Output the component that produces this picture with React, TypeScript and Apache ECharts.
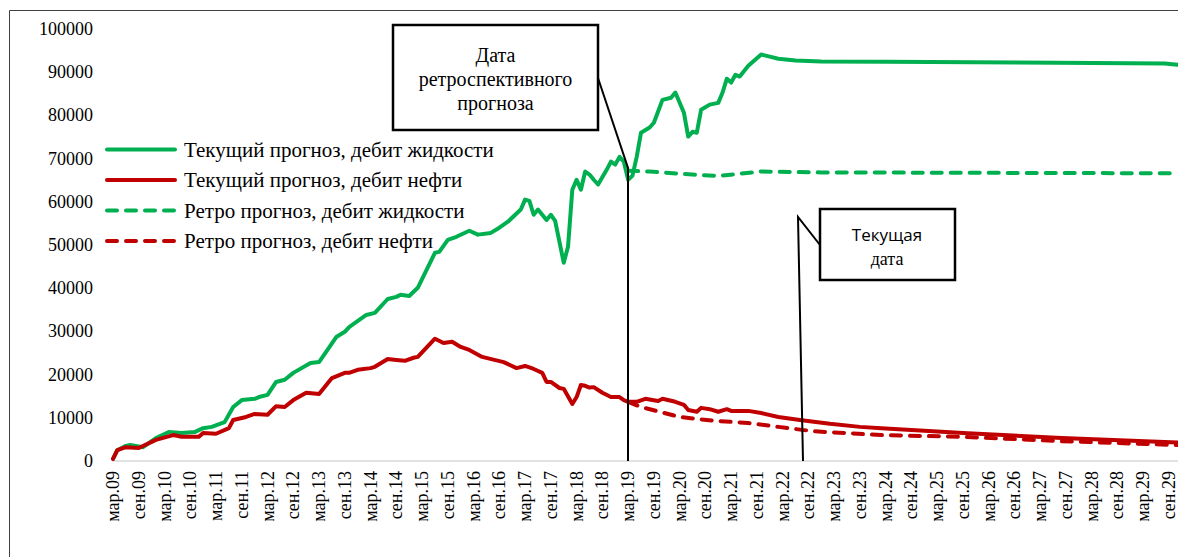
import React, { useEffect, useRef } from "react";
import * as echarts from "echarts";

// Month abbreviations (Russian)
const monthNames = ["янв", "фев", "мар", "апр", "май", "июн", "июл", "авг", "сен", "окт", "ноя", "дек"];
// Monthly categories from мар.09 to ноя.29
const categories: string[] = [];
for (let i = 0; i < 249; i++) {
  const mi = (2 + i) % 12;
  const yr = 2009 + Math.floor((2 + i) / 12);
  categories.push(`${monthNames[mi]}.${String(yr % 100).padStart(2, "0")}`);
}

// [month index from мар.09, value]
const liquidCurrent: [number, number][] = [
  [0, 500], [1, 2500], [3, 3500], [4, 3700], [7, 3200], [10, 5300], [13, 6700], [16, 6500], [19, 6700],
  [21, 7600], [23, 7900], [26, 9000], [28, 12500], [30, 14100], [33, 14400], [34, 14800], [36, 15300],
  [38, 18300], [40, 18800], [42, 20400], [46, 22700], [48, 22900], [52, 28700], [54, 29900], [55, 31000],
  [59, 33800], [61, 34300], [64, 37500], [66, 38000], [67, 38500], [69, 38200], [71, 40100], [75, 48200],
  [76, 48400], [78, 51200], [80, 51900], [83, 53300], [85, 52400], [88, 52800], [90, 54000], [92, 55400],
  [95, 58200], [96, 60500], [97, 60200], [98, 57000], [99, 58200], [101, 55800], [102, 57000], [103, 55600],
  [105, 45900], [106, 49600], [107, 62800], [108, 65100], [109, 62800], [110, 67000], [111, 66300],
  [112, 65100], [113, 64000], [115, 67400], [116, 69300], [117, 68600], [118, 70400], [119, 69300],
  [120, 65100], [121, 66000], [122, 70400], [123, 76000], [125, 77200], [126, 78300], [128, 83600],
  [130, 84100], [131, 85300], [133, 80600], [134, 75100], [135, 76200], [136, 76000], [137, 81300],
  [139, 82500], [141, 82900], [142, 85300], [143, 88500], [144, 87600], [145, 89400], [146, 89000],
  [148, 91500], [151, 94100], [153, 93600], [155, 93100], [159, 92700], [165, 92500], [180, 92400],
  [220, 92200], [245, 92000], [248, 91700],
];

const oilCurrent: [number, number][] = [
  [0, 500], [1, 2500], [3, 3200], [6, 3000], [10, 4900], [14, 6000], [16, 5600], [20, 5600], [21, 6500],
  [24, 6300], [27, 7600], [28, 9500], [31, 10200], [33, 10900], [36, 10700], [38, 12700], [40, 12500],
  [42, 14100], [45, 15800], [48, 15500], [51, 19200], [54, 20400], [55, 20400], [57, 21100], [60, 21500],
  [61, 21800], [64, 23600], [66, 23400], [68, 23200], [70, 23900], [71, 24100], [75, 28300], [77, 27300],
  [79, 27600], [81, 26400], [83, 25700], [86, 24100], [91, 22900], [94, 21500], [96, 22000], [98, 21300],
  [100, 20400], [101, 18300], [102, 18300], [104, 16900], [105, 16700], [107, 13200], [108, 14800],
  [109, 17600], [110, 17400], [111, 17000], [112, 17100], [114, 15800], [116, 14800], [118, 14800],
  [119, 14100], [120, 13700], [122, 13700], [124, 14400], [127, 13900], [128, 14400], [131, 13700],
  [133, 13000], [134, 11800], [136, 11400], [137, 12300], [139, 12000], [141, 11400], [143, 12000],
  [144, 11600], [148, 11600], [151, 11100], [155, 10200], [160, 9500], [167, 8600], [174, 7900],
  [179, 7600], [198, 6500], [221, 5300], [248, 4300],
];

const liquidRetro: [number, number][] = [
  [120, 67200], [125, 67000], [135, 66300], [141, 66000], [145, 66400], [151, 67000], [165, 66800],
  [248, 66600],
];

const oilRetro: [number, number][] = [
  [120, 13700], [123, 12500], [132, 10200], [140, 9300], [148, 8800], [155, 7900], [163, 6900],
  [179, 6000], [198, 5600], [221, 4600], [248, 3700],
];

const seriesNames = [
  "Текущий прогноз, дебит жидкости",
  "Текущий прогноз, дебит нефти",
  "Ретро прогноз, дебит жидкости",
  "Ретро прогноз, дебит нефти",
];

const GREEN = "#00b050";
const RED = "#c00000";
const SERIF = "Liberation Serif";
const SANS = "Open Sans";

export default function App() {
  const ref = useRef<HTMLDivElement>(null);
  useEffect(() => {
    if (!ref.current) return;
    const chart = echarts.init(ref.current, undefined, { renderer: "svg" });
    const dash = [10, 9];
    const mk = (name: string, data: [number, number][], color: string, dashed: boolean) => ({
      name,
      type: "line",
      data,
      symbol: "none",
      showSymbol: false,
      color,
      lineStyle: { color, width: 4, type: dashed ? dash : "solid", cap: "round", join: "round" },
    });
    chart.setOption({
      animation: false,
      backgroundColor: "#fff",
      grid: { left: 113, right: 0, top: 29, bottom: 96, containLabel: false },
      legend: {
        orient: "vertical",
        left: 100,
        top: 134,
        padding: 5,
        itemWidth: 68,
        itemHeight: 20,
        itemGap: 9.5,
        itemStyle: { opacity: 0, borderWidth: 0 },
        lineStyle: { width: 4, cap: "round" },
        textStyle: { fontFamily: SERIF, fontSize: 21, color: "#000", padding: [0, 0, 0, 4] },
        data: seriesNames,
      },
      xAxis: {
        type: "category",
        data: categories,
        boundaryGap: false,
        axisLine: { lineStyle: { color: "#d9d9d9", width: 1.5 } },
        axisTick: { show: false },
        axisLabel: {
          interval: 5,
          rotate: 90,
          margin: 10,
          color: "#000",
          fontFamily: SERIF,
          fontSize: 18,
        },
        splitLine: { show: false },
      },
      yAxis: {
        type: "value",
        min: 0,
        max: 100000,
        interval: 10000,
        axisLine: { show: false },
        axisTick: { show: false },
        splitLine: { show: false },
        axisLabel: {
          color: "#000",
          fontFamily: SERIF,
          fontSize: 18,
          margin: 20,
          formatter: (v: number) => String(v),
        },
      },
      series: [
        mk(seriesNames[2], liquidRetro, GREEN, true),
        mk(seriesNames[3], oilRetro, RED, true),
        mk(seriesNames[0], liquidCurrent, GREEN, false),
        mk(seriesNames[1], oilCurrent, RED, false),
      ],
      graphic: [
        {
          type: "rect",
          z: 100,
          shape: { x: 9.5, y: 10.5, width: 1300, height: 700 },
          style: { fill: "none", stroke: "#404040", lineWidth: 1 },
        },
        {
          type: "polyline",
          z: 101,
          shape: { points: [[598, 78], [628, 168], [628, 461]] },
          style: { fill: "none", stroke: "#000", lineWidth: 2 },
        },
        {
          type: "rect",
          z: 102,
          shape: { x: 393, y: 25, width: 205, height: 105 },
          style: { fill: "#fff", stroke: "#000", lineWidth: 2.5 },
        },
        {
          type: "text",
          z: 103,
          x: 495.5,
          y: 79,
          style: {
            text: "Дата\nретроспективного\nпрогноза",
            fontFamily: SERIF,
            fontSize: 20,
            lineHeight: 24,
            fill: "#000",
            align: "center",
            verticalAlign: "middle",
          },
        },
        {
          type: "polyline",
          z: 101,
          shape: { points: [[820, 245], [798, 217], [803, 461]] },
          style: { fill: "none", stroke: "#000", lineWidth: 2 },
        },
        {
          type: "rect",
          z: 102,
          shape: { x: 820, y: 209, width: 135, height: 71 },
          style: { fill: "#fff", stroke: "#000", lineWidth: 2.5 },
        },
        {
          type: "text",
          z: 103,
          x: 887,
          y: 234,
          style: {
            text: "Текущая",
            fontFamily: SANS,
            fontSize: 17,
            fill: "#000",
            align: "center",
            verticalAlign: "middle",
          },
        },
        {
          type: "text",
          z: 103,
          x: 887,
          y: 259,
          style: {
            text: "дата",
            fontFamily: SERIF,
            fontSize: 18,
            fill: "#000",
            align: "center",
            verticalAlign: "middle",
          },
        },
      ],
    });
    return () => chart.dispose();
  }, []);
  return (
    <div
      ref={ref}
      style={{ position: "absolute", left: 0, top: 0, width: 1178, height: 557, background: "#fff" }}
    />
  );
}
